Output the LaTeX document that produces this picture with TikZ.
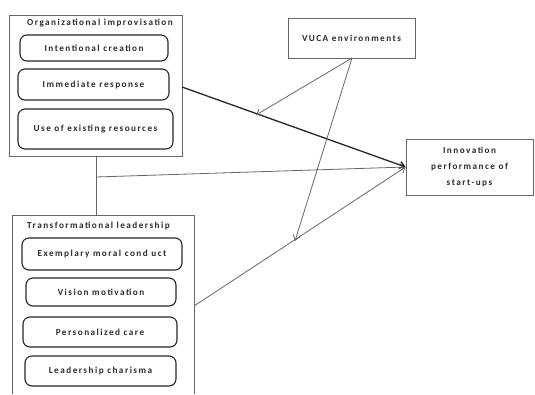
\documentclass[tikz,border=0pt]{standalone}
\usepackage{fontspec}
\setmainfont{Carlito}[LetterSpace=16]
\usetikzlibrary{arrows.meta,calc}
\definecolor{txt}{HTML}{2A2A2A}
\definecolor{ln}{HTML}{666666}
\tikzset{
  outerbox/.style={draw=ln, line width=0.8pt},
  innerbox/.style={draw=black!85, line width=1.1pt, rounded corners=7pt, inner sep=0pt},
  lab/.style={text=txt, font=\bfseries\fontsize{9.2}{10}\selectfont, inner sep=0pt},
  plainbox/.style={draw=ln, line width=0.8pt, inner sep=0pt, align=center, text=txt, font=\bfseries\fontsize{9.2}{16}\selectfont},
  garrow/.style={draw=ln, line width=0.8pt, -{Straight Barb[length=5pt,width=7pt]}},
  darrow/.style={draw=black!85, line width=1.3pt, -{Straight Barb[length=5pt,width=7pt]}},
  gline/.style={draw=ln, line width=0.8pt}
}
\begin{document}
\begin{tikzpicture}[x=1pt,y=-1pt]
\useasboundingbox (0,0) rectangle (535,394);
% Organizational improvisation
\draw[outerbox] (9,15) rectangle (182,156);
\node[lab, anchor=west] (t1) at (27,23) {Organizational improvisation};
\draw[innerbox] (20,35) rectangle (168,61);
\node[lab] (a1) at (94,48) {Intentional creation};
\draw[innerbox] (18,69) rectangle (169,100);
\node[lab] (a2) at (93.5,84.5) {Immediate response};
\draw[innerbox] (18,109) rectangle (173,149);
\node[lab] (a3) at (95.5,129) {Use of existing resources};
\coordinate (oiR) at (182,87);
\coordinate (oiB) at (96,156);
% Transformational leadership
\draw[outerbox] (12,394) -- (12,215) -- (194,215) -- (194,394);
\node[lab, anchor=west] (t2) at (27,226) {Transformational leadership};
\draw[innerbox] (22,238) rectangle (182,270);
\node[lab] (b1) at (102,254) {Exemplary moral cond uct};
\draw[innerbox] (26,278) rectangle (176,306);
\node[lab] (b2) at (101,292) {Vision motivation};
\draw[innerbox] (23,317) rectangle (177,347);
\node[lab] (b3) at (100,332) {Personalized care};
\draw[innerbox] (25,356) rectangle (176,386);
\node[lab] (b4) at (100.5,371) {Leadership charisma};
\coordinate (tlR) at (194,306);
\coordinate (tlT) at (96,215);
% VUCA
\node[plainbox, minimum width=127pt, minimum height=40pt] (vuca) at (351.5,38) {VUCA environments};
% Innovation
\node[plainbox, minimum width=127pt, minimum height=56pt] (inn) at (469.5,167) {Innovation\\performance of\\start-ups};
% connectors
\coordinate (j) at (96,177);
\draw[gline] (oiB) -- (tlT);
\draw[garrow] (j) -- (inn.west);
\draw[darrow] (oiR) -- (inn.west);
\draw[garrow] (tlR) -- (inn.west);
\coordinate (vb) at (352,58);
\draw[garrow] (vb) -- (256,115);
\draw[garrow] (vb) -- (295,241);
\end{tikzpicture}
\end{document}
